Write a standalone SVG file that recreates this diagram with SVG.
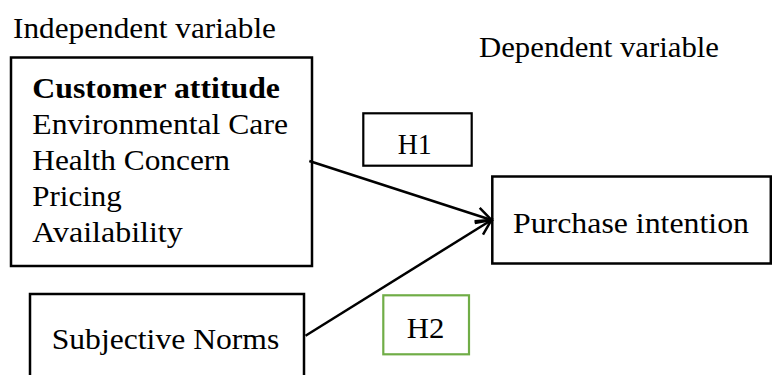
<svg xmlns="http://www.w3.org/2000/svg" width="772" height="375" viewBox="0 0 772 375">
<style>
text { font-family: "Liberation Serif", "Times New Roman", serif; font-size: 29px; fill: #000; }
.b { font-weight: bold; }
.box { fill: #fff; stroke: #000; stroke-width: 2.5; }
.hbox { fill: #fff; stroke: #000; stroke-width: 2.2; }
.gbox { fill: #fff; stroke: #70ad47; stroke-width: 2.2; }
.conn { fill: none; stroke: #000; stroke-width: 2.5; }
</style>
<defs>
<marker id="arr" markerUnits="userSpaceOnUse" markerWidth="20" markerHeight="20" refX="17" refY="10" orient="auto" viewBox="0 0 20 20">
<path d="M2,2 L17,10 L2,18" fill="none" stroke="#000" stroke-width="2.5"/>
</marker>
</defs>
<g id="labels">
<text x="13" y="37.5" textLength="263" lengthAdjust="spacingAndGlyphs">Independent variable</text>
<text x="479" y="56.7" textLength="240" lengthAdjust="spacingAndGlyphs">Dependent variable</text>
</g>
<g id="customer-attitude">
<rect class="box" x="11" y="57.5" width="301" height="208.5"/>
<text class="b" x="32.3" y="98.3" textLength="247.7" lengthAdjust="spacingAndGlyphs">Customer attitude</text>
<text x="32.3" y="134.3" textLength="255.7" lengthAdjust="spacingAndGlyphs">Environmental Care</text>
<text x="32.3" y="170.3" textLength="197.7" lengthAdjust="spacingAndGlyphs">Health Concern</text>
<text x="32.3" y="206.3" textLength="89.4" lengthAdjust="spacingAndGlyphs">Pricing</text>
<text x="32.3" y="242.3" textLength="150.4" lengthAdjust="spacingAndGlyphs">Availability</text>
</g>
<g id="subjective-norms">
<rect class="box" x="30" y="294" width="274" height="110"/>
<text x="51.7" y="349" textLength="227.6" lengthAdjust="spacingAndGlyphs">Subjective Norms</text>
</g>
<g id="purchase-intention">
<rect class="box" x="492.3" y="176.5" width="278.5" height="87"/>
<text x="513" y="233.3" textLength="236" lengthAdjust="spacingAndGlyphs">Purchase intention</text>
</g>
<g id="h1">
<rect class="hbox" x="363.3" y="113.3" width="108.4" height="52.4"/>
<text x="397.7" y="154.3" textLength="34" lengthAdjust="spacingAndGlyphs">H1</text>
</g>
<g id="h2">
<rect class="gbox" x="383.3" y="295.3" width="85.7" height="59"/>
<text x="406.7" y="337.7" textLength="37.6" lengthAdjust="spacingAndGlyphs">H2</text>
</g>
<g id="connectors">
<line class="conn" x1="309.3" y1="161" x2="491.5" y2="220" marker-end="url(#arr)"/>
<line class="conn" x1="305.5" y1="335.7" x2="491.5" y2="220" marker-end="url(#arr)"/>
</g>
</svg>
